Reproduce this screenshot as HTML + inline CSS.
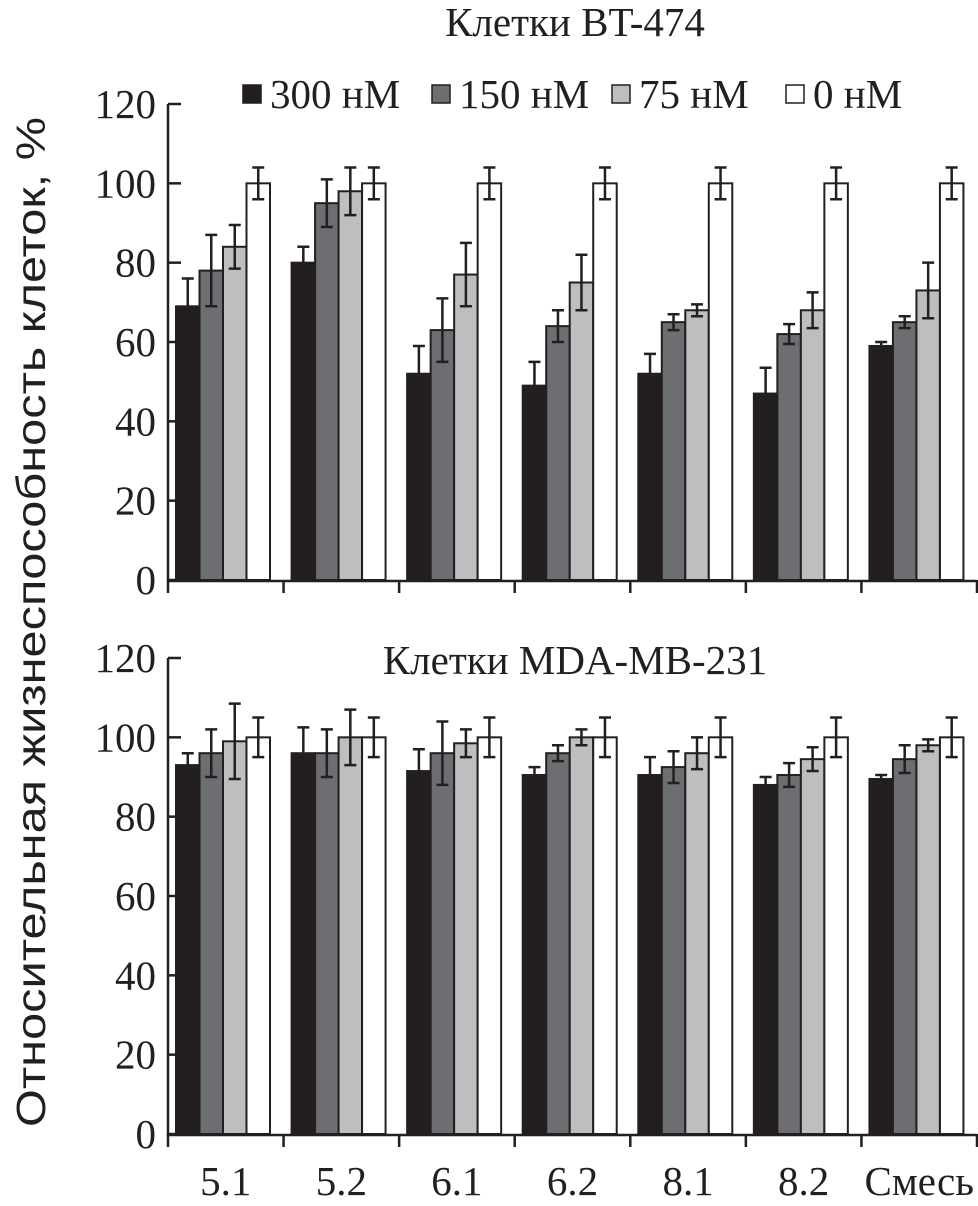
<!DOCTYPE html>
<html><head><meta charset="utf-8"><style>
body{margin:0;background:#fff}
svg{display:block}
text{font-family:"Liberation Serif","DejaVu Serif",serif;fill:#231f20}
</style></head><body>
<svg id="c" width="978" height="1206" viewBox="0 0 978 1206" xmlns="http://www.w3.org/2000/svg">
<text x="575" y="36" font-size="41" text-anchor="middle">Клетки BT-474</text>
<text x="575" y="674" font-size="41" text-anchor="middle">Клетки MDA-MB-231</text>
<text transform="translate(45,622) rotate(-90)" font-size="41" text-anchor="middle" textLength="1010" lengthAdjust="spacingAndGlyphs" style="font-family:'Liberation Sans',sans-serif">Относительная жизнеспособность клеток, %</text>
<g id="legend"></g>
<g id="plots"></g>
</svg>
<script>
const categories=["5.1","5.2","6.1","6.2","8.1","8.2","Смесь"];
const seriesNames=["300 нМ","150 нМ","75 нМ","0 нМ"];
const topVals=[[69,80,52,49,52,47,59],[78,95,63,64,65,62,65],[84,98,77,75,68,68,73],[100,100,100,100,100,100,100]];
const topErr=[[7,4,7,6,5,6.5,1],[9,6,8,4,2,2.5,1.5],[5.5,6,8,7,1.5,4.5,7],[4,4,4,4,4,4,4]];
const botVals=[[93,96,91.5,90.5,90.5,88,89.5],[96,96,96,96,92.5,90.5,94.5],[99,100,98.5,100,96,94.5,98],[100,100,100,100,100,100,100]];
const botErr=[[3,6.5,5.5,2,4.5,2,1],[6,6,8,2,4,3,3.5],[9.5,7,3.5,2,4,3,1.5],[5,5,5,5,5,5,5]];
const yTicks=[0,20,40,60,80,100,120];
const NS="http://www.w3.org/2000/svg";
const colors=["#231f20","#6d6e71","#bcbec0","#ffffff"];
const svg=document.getElementById('plots');
function mk(tag,attrs,parent){const e=document.createElementNS(NS,tag);for(const k in attrs)e.setAttribute(k,attrs[k]);(parent||svg).appendChild(e);return e;}
const x0=168,x1=977,gw=(x1-x0)/categories.length,bw=23.5,off=8;
function drawPanel(vals,errs,y0,yTop,name,showX){
  const g=mk('g',{});
  
  
  const ys=v=>y0-(v/120)*(y0-yTop);
  vals.forEach((ser,s)=>ser.forEach((v,i)=>{
    const x=x0+i*gw+off+s*bw;
    const r=mk('rect',{x:x,y:ys(v),width:bw,height:y0-ys(v),fill:colors[s],stroke:'#231f20','stroke-width':2},g);
    
    
    const e=errs[s][i],cx=x+bw/2;
    const p=mk('path',{d:`M${cx} ${ys(v+e)}V${ys(v-e)}M${cx-6} ${ys(v+e)}H${cx+6}M${cx-6} ${ys(v-e)}H${cx+6}`,stroke:'#231f20','stroke-width':2.5,fill:'none'},g);
    
    
  }));
  mk('path',{d:`M${x0} ${yTop}V${y0+1}H${x1}`,stroke:'#231f20','stroke-width':2.5,fill:'none'},g);
  yTicks.forEach(t=>{
    mk('path',{d:`M${x0} ${ys(t)}H${x0+13}`,stroke:'#231f20','stroke-width':2.5},g);
    const tx=mk('text',{x:156,y:ys(t)+14,'font-size':41,'text-anchor':'end'},g);
    tx.textContent=t;
    
    
  });
  for(let i=0;i<=categories.length;i++){
    const x=x0+i*gw;
    mk('path',{d:`M${x} ${y0}V${y0+13}`,stroke:'#231f20','stroke-width':2.5},g);
  }
  if(showX) categories.forEach((c,i)=>{
    const tx=mk('text',{x:x0+i*gw+gw/2,y:1195,'font-size':41,'text-anchor':'middle'},g);
    tx.textContent=c;
    
    
  });
}
drawPanel(topVals,topErr,580,104,'top-panel',false);
drawPanel(botVals,botErr,1134,658,'bottom-panel',true);
const leg=document.getElementById('legend');
const legX=[243,432,612,786];
seriesNames.forEach((n,s)=>{
  const r=mk('rect',{x:legX[s],y:85,width:18,height:18,fill:colors[s],stroke:'#231f20','stroke-width':1.5},leg);
  
  
  const t=mk('text',{x:legX[s]+27,y:108,'font-size':41},leg);
  t.textContent=n;
  
  
});
</script>
</body></html>
